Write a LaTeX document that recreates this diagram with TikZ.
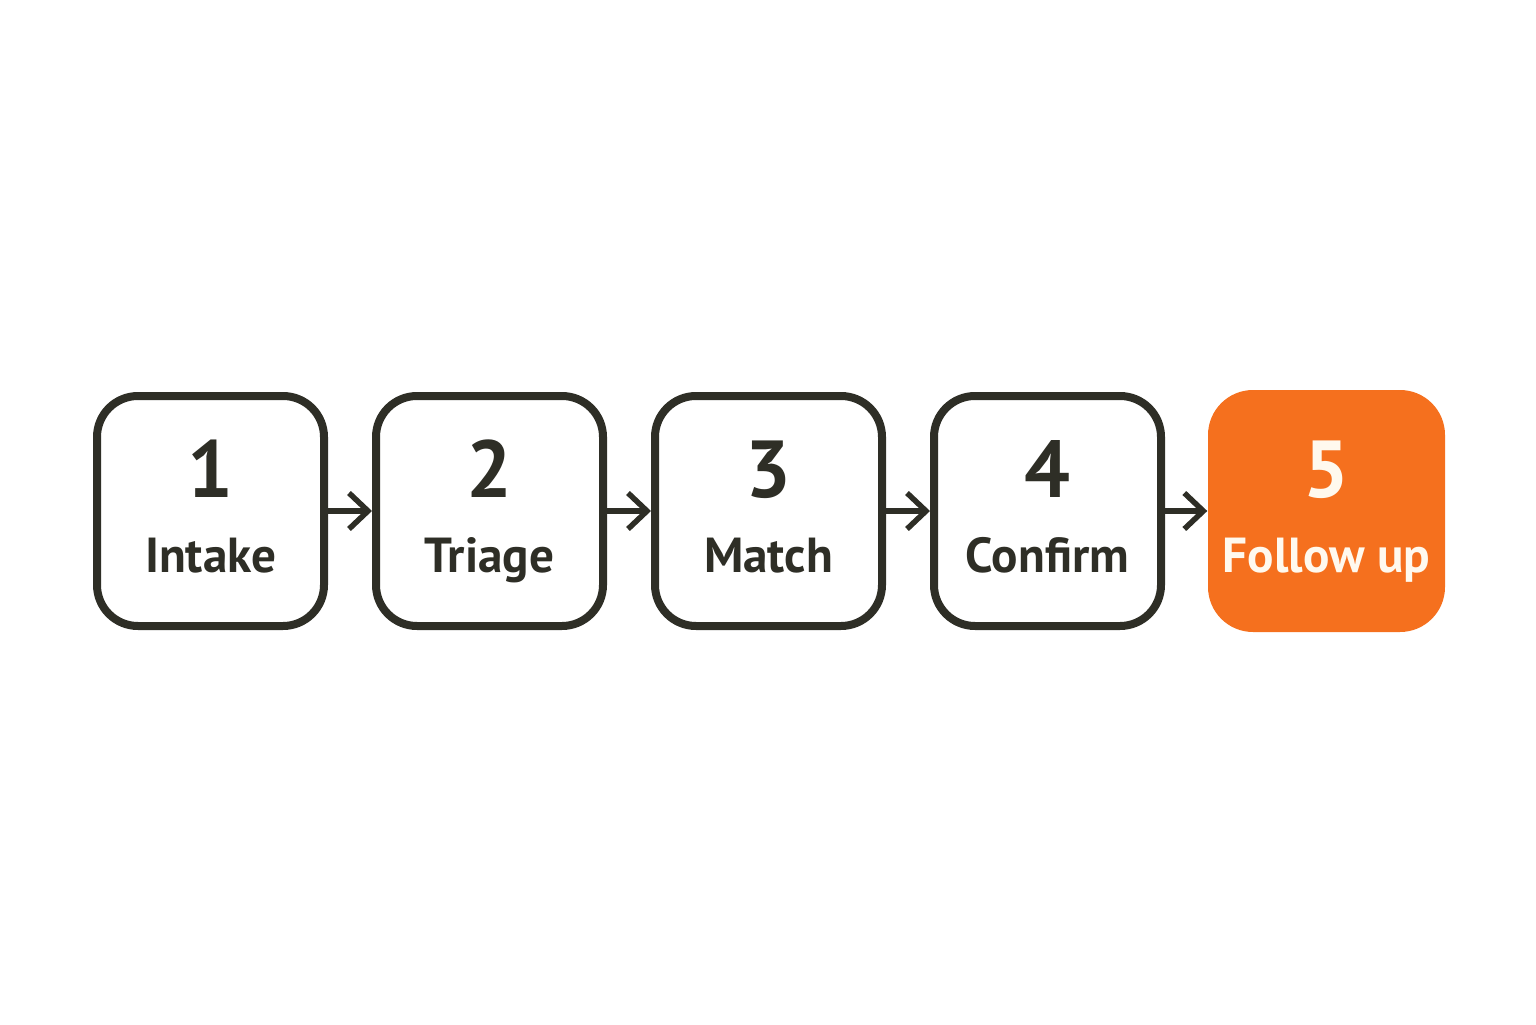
\documentclass[tikz,border=0pt]{standalone}
\usepackage{fontspec}
\setmainfont{PT Sans}
\usetikzlibrary{arrows.meta}
\usetikzlibrary{positioning}
\definecolor{ink}{HTML}{2E2E26}
\definecolor{accent}{HTML}{F5701E}
\definecolor{cream}{HTML}{FFF9EE}
\tikzset{stepbox/.style={draw=ink, line width=0.8mm, rounded corners=4.1mm,
  minimum width=22.7mm, minimum height=23mm, inner sep=0pt, fill=white}}
\tikzset{lastbox/.style={fill=accent, rounded corners=4.5mm,
  minimum width=23.7mm, minimum height=24.2mm, inner sep=0pt}}
\tikzset{num/.style={anchor=base, inner sep=0pt, text=ink,
  font=\fontsize{23}{23}\selectfont\bfseries}}
\tikzset{lbl/.style={anchor=base, inner sep=0pt, text=ink,
  font=\fontsize{14}{14}\selectfont\bfseries}}
\tikzset{flow/.style={draw=ink, line width=0.55mm,
  -{Straight Barb[length=1.9mm, width=3.6mm, line width=0.55mm]}}}

\begin{document}
\begin{tikzpicture}
  \useasboundingbox (0,0) rectangle (15.36,10.24);
  % the four outlined steps
  \node[stepbox] (b1) at (2.105,5.13) {};
  \node[stepbox, right=4.4mm of b1] (b2) {};
  \node[stepbox, right=4.4mm of b2] (b3) {};
  \node[stepbox, right=4.4mm of b3] (b4) {};
  % last step, filled
  \node[lastbox] (b5) at (13.265,5.13) {};

  \foreach \b/\n/\t in {b1/1/Intake, b2/2/Triage, b3/3/Match, b4/4/Confirm}{
    \node[num, yshift=1.4mm] (n\b) at (\b.center) {\n};
    \node[lbl, yshift=-6.1mm] (t\b) at (\b.center) {\t};
  }
  \node[num, text=cream, yshift=1.4mm] (nb5) at (b5.center) {5};
  \node[lbl, text=cream, yshift=-6.1mm] (tb5) at (b5.center) {Follow up};

  \draw[flow] (b1.east) -- (b2.west);
  \draw[flow] (b2.east) -- (b3.west);
  \draw[flow] (b3.east) -- (b4.west);
  \draw[flow] (b4.east) -- (b5.west);
\end{tikzpicture}
\end{document}
